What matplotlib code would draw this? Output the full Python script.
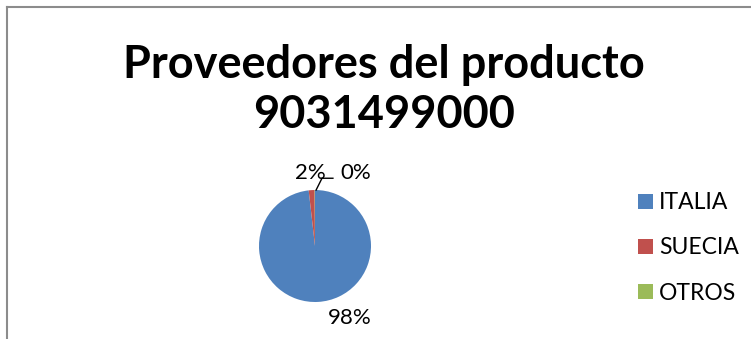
import matplotlib.pyplot as plt
import matplotlib

matplotlib.rcParams["font.family"] = ["Lato", "DejaVu Sans"]

paises = ["ITALIA", "SUECIA", "OTROS"]
porcentajes = [98.2, 1.7, 0.1]
etiquetas = ["98%", "2%", "0%"]
colores = ["#4F81BD", "#C0504D", "#9BBB59"]

W, H = 751, 339
fig = plt.figure(figsize=(W / 100, H / 100), dpi=100)
fig.patch.set_facecolor("white")

# marco gris (solo se ven arriba y a la izquierda)
fig.add_artist(plt.Line2D([7 / W, 7 / W], [0, 1 - 7 / H], color="#8c8c8c", lw=1.5))
fig.add_artist(plt.Line2D([7 / W, 1], [1 - 7 / H, 1 - 7 / H], color="#8c8c8c", lw=1.5))

fig.text(384 / W, 1 - 90 / H, "Proveedores del producto\n9031499000",
         ha="center", va="center", fontsize=32.5, fontweight="bold",
         linespacing=1.25)

# pie
cx, cy, r = 315, 246, 56
ax = fig.add_axes([(cx - r) / W, 1 - (cy + r) / H, 2 * r / W, 2 * r / H])
wedges, _ = ax.pie(porcentajes, colors=colores, startangle=90,
                   counterclock=False, radius=1,
                   wedgeprops={"linewidth": 0})
ax.set_xlim(-1, 1)
ax.set_ylim(-1, 1)
ax.set_aspect("equal")
ax.axis("off")

ax.text(0.62, -1.29, etiquetas[0], ha="center", va="center", fontsize=16, clip_on=False)
ax.text(-0.09, 1.30, etiquetas[1], ha="center", va="center", fontsize=16, clip_on=False)
ax.text(0.73, 1.30, etiquetas[2], ha="center", va="center", fontsize=16, clip_on=False)
ax.plot([0.02, 0.125, 0.32], [1.0, 1.21, 1.21], color="black", lw=1, clip_on=False)

fig.legend(wedges, paises, loc="center left",
           bbox_to_anchor=(617 / W, 1 - 248 / H), frameon=False,
           fontsize=16.5, handlelength=0.65, handleheight=0.65,
           handletextpad=0.27, labelspacing=1.05)

plt.savefig("out.png", dpi=100)
